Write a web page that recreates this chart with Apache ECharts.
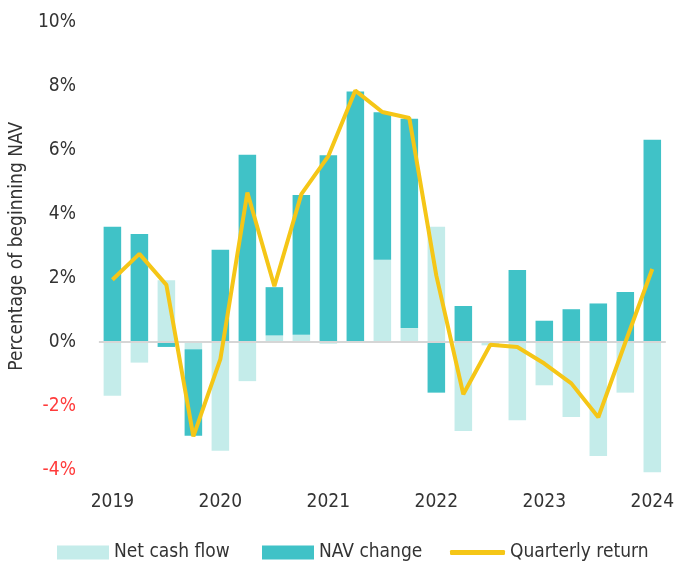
<!DOCTYPE html>
<html>
<head>
<meta charset="utf-8">
<script src="https://cdn.jsdelivr.net/npm/echarts@6/dist/echarts.min.js"></script>
<style>
  html, body { margin: 0; padding: 0; background: #fff; }
  #main { width: 677px; height: 565px; }
</style>
</head>
<body>
<div id="main"></div>
<script>
// quarters 2019 Q1 .. 2024 Q1
var quarters = [
  "2019 Q1", "2019 Q2", "2019 Q3", "2019 Q4",
  "2020 Q1", "2020 Q2", "2020 Q3", "2020 Q4",
  "2021 Q1", "2021 Q2", "2021 Q3", "2021 Q4",
  "2022 Q1", "2022 Q2", "2022 Q3", "2022 Q4",
  "2023 Q1", "2023 Q2", "2023 Q3", "2023 Q4",
  "2024 Q1"
];
// values in % of beginning NAV
var netCashFlow = [-1.68, -0.64, 1.94, -0.22, -3.40, -1.22, 0.21, 0.23, -0.05, 0, 2.58, 0.44,
  3.61, -2.78, -0.10, -2.44, -1.35, -2.34, -3.56, -1.58, -4.07];
var navChange = [3.61, 3.38, -0.15, -2.71, 2.89, 5.86, 1.51, 4.37, 5.85, 7.84, 4.61, 6.55,
  -1.58, 1.13, 0, 2.26, 0.67, 1.03, 1.21, 1.57, 6.33];
var quarterlyReturn = [1.95, 2.76, 1.79, -2.95, -0.53, 4.68, 1.75, 4.63, 5.82, 7.87, 7.20, 7.01,
  2.08, -1.63, -0.08, -0.15, -0.67, -1.29, -2.35, -0.01, 2.29];
var yTicks = [-4, -2, 0, 2, 4, 6, 8, 10];

var FONT = "'DejaVu Sans Condensed', 'DejaVu Sans', sans-serif";
var TEXT = "#333333";
var legendText = { fontFamily: FONT, fontSize: 19, color: TEXT };

var chart = echarts.init(document.getElementById("main"));
chart.setOption({
  animation: false,
  textStyle: { fontFamily: FONT },
  grid: { left: 97.5, right: 11, top: 22.5, bottom: 95 },
  // one legend per item so each sits where it does in the picture
  legend: [
    { top: 538, left: 52, itemWidth: 52, itemHeight: 14, textStyle: legendText,
      data: [{ name: "Net cash flow", icon: "rect" }] },
    { top: 538, left: 257, itemWidth: 52, itemHeight: 14, textStyle: legendText,
      data: [{ name: "NAV change", icon: "rect" }] },
    { top: 538, left: 445, itemWidth: 55, itemHeight: 5, textStyle: legendText,
      data: [{ name: "Quarterly return", icon: "roundRect" }] }
  ],
  xAxis: {
    type: "category",
    data: quarters,
    axisLine: { show: false },
    axisTick: { show: false },
    axisLabel: {
      interval: 3,
      margin: 23,
      fontFamily: FONT,
      fontSize: 19,
      color: TEXT,
      formatter: function (v) { return v.split(" ")[0]; }
    }
  },
  yAxis: {
    type: "value",
    min: yTicks[0],
    max: yTicks[yTicks.length - 1],
    interval: 2,
    name: "Percentage of beginning NAV",
    nameLocation: "middle",
    nameGap: 68,
    nameTextStyle: { fontFamily: FONT, fontSize: 19, color: TEXT },
    axisLine: { show: false },
    axisTick: { show: false },
    splitLine: { show: false },
    axisLabel: {
      margin: 23,
      fontFamily: FONT,
      fontSize: 19,
      color: function (v) { return Number(v) < 0 ? "#ff3b3b" : TEXT; },
      formatter: "{value}%"
    }
  },
  series: [
    {
      name: "Net cash flow",
      type: "bar",
      stack: "total",
      barCategoryGap: "35%",
      clip: false,
      itemStyle: { color: "#c4ecea" },
      data: netCashFlow
    },
    {
      name: "NAV change",
      type: "bar",
      stack: "total",
      barCategoryGap: "35%",
      clip: false,
      itemStyle: { color: "#40c2c7" },
      data: navChange,
      markLine: {
        silent: true,
        symbol: "none",
        label: { show: false },
        lineStyle: { color: "#d6d6d6", type: "solid", width: 2 },
        data: [{ yAxis: 0 }]
      }
    },
    {
      name: "Quarterly return",
      type: "line",
      z: 5,
      showSymbol: false,
      symbol: "none",
      lineStyle: { color: "#f5c617", width: 4 },
      itemStyle: { color: "#f5c617" },
      data: quarterlyReturn
    }
  ]
});
</script>
</body>
</html>
